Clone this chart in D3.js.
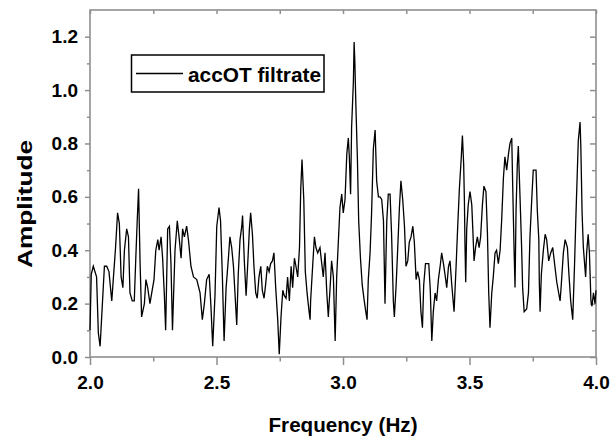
<!DOCTYPE html>
<html>
<head>
<meta charset="utf-8">
<script src="https://cdn.jsdelivr.net/npm/d3@7"></script>
<style>
  html, body { margin: 0; padding: 0; background: #fff; }
  text { font-family: "Liberation Sans", Arial, sans-serif; font-weight: bold; fill: #000; }
</style>
</head>
<body>
<svg id="chart" width="611" height="445"></svg>
<script>
// data
const freq = [
  2.000, 2.005, 2.013, 2.026, 2.033, 2.040, 2.049, 2.057, 2.066, 2.075,
  2.086, 2.092, 2.101, 2.109, 2.116, 2.123, 2.130, 2.136, 2.145, 2.152,
  2.158, 2.167, 2.175, 2.181, 2.187, 2.192, 2.198, 2.204, 2.215, 2.221,
  2.228, 2.237, 2.244, 2.253, 2.260, 2.268, 2.273, 2.281, 2.287, 2.294,
  2.299, 2.307, 2.314, 2.320, 2.326, 2.336, 2.345, 2.352, 2.360, 2.366,
  2.373, 2.382, 2.389, 2.399, 2.409, 2.422, 2.435, 2.444, 2.452, 2.461,
  2.471, 2.478, 2.485, 2.494,
  2.501, 2.510, 2.516, 2.523, 2.530, 2.538, 2.547, 2.553, 2.560, 2.567,
  2.573, 2.580, 2.586, 2.593, 2.600, 2.603, 2.610, 2.617, 2.623, 2.630,
  2.635, 2.642, 2.648, 2.655, 2.661, 2.668, 2.675, 2.681, 2.688, 2.694,
  2.701, 2.708, 2.714, 2.721, 2.727, 2.734, 2.742, 2.748, 2.755, 2.762,
  2.768, 2.775, 2.781, 2.788, 2.795, 2.801, 2.808, 2.814, 2.821, 2.828,
  2.833, 2.838, 2.845, 2.851, 2.858, 2.866, 2.870, 2.872, 2.880, 2.887,
  2.893, 2.900, 2.909, 2.916, 2.922, 2.929, 2.936, 2.942, 2.949, 2.955,
  2.962, 2.969,
  2.975, 2.982, 2.988, 2.995, 3.001, 3.008, 3.015, 3.021, 3.025, 3.030,
  3.034, 3.041, 3.044, 3.047, 3.051, 3.057, 3.062, 3.069, 3.076, 3.084,
  3.090, 3.095, 3.100, 3.107, 3.113, 3.120, 3.127, 3.133, 3.140, 3.146,
  3.153, 3.160, 3.166, 3.173, 3.179, 3.186, 3.192, 3.199, 3.203, 3.210,
  3.216, 3.223, 3.229, 3.236, 3.243, 3.249, 3.256, 3.262, 3.269, 3.276,
  3.282, 3.289, 3.295, 3.302, 3.308, 3.314, 3.319, 3.326, 3.332, 3.339,
  3.345, 3.351, 3.357, 3.364, 3.370, 3.377, 3.384, 3.390, 3.397, 3.403,
  3.410, 3.417, 3.423, 3.430, 3.439, 3.447, 3.453, 3.460, 3.467, 3.472,
  3.477, 3.480, 3.482, 3.485, 3.489, 3.495, 3.502, 3.509, 3.513, 3.518,
  3.524, 3.531, 3.538, 3.544, 3.551, 3.557, 3.565, 3.571, 3.576, 3.581,
  3.588, 3.594, 3.601, 3.607, 3.614, 3.621, 3.627, 3.634, 3.640, 3.647,
  3.654, 3.660, 3.667, 3.671, 3.676, 3.680, 3.684, 3.689, 3.693, 3.700,
  3.706, 3.710, 3.716, 3.726, 3.733, 3.739, 3.746, 3.752, 3.763, 3.768,
  3.774, 3.776, 3.779, 3.784, 3.792, 3.799, 3.805, 3.813, 3.821, 3.829,
  3.835, 3.845, 3.858, 3.862, 3.871, 3.878, 3.887, 3.893, 3.900, 3.908,
  3.915, 3.921, 3.926, 3.930, 3.937, 3.940, 3.945, 3.950, 3.955, 3.959,
  3.963, 3.969, 3.974, 3.980, 3.984, 3.990, 3.996, 4.000
];
const amplitude = [
  0.10, 0.31, 0.34, 0.30, 0.09, 0.04, 0.20, 0.34, 0.34, 0.32,
  0.21, 0.29, 0.41, 0.54, 0.50, 0.30, 0.26, 0.40, 0.48, 0.45,
  0.24, 0.21, 0.21, 0.37, 0.52, 0.63, 0.35, 0.15, 0.20, 0.29,
  0.26, 0.20, 0.24, 0.29, 0.40, 0.44, 0.40, 0.45, 0.37, 0.23,
  0.10, 0.48, 0.49, 0.35, 0.10, 0.40, 0.51, 0.45, 0.37, 0.48,
  0.45, 0.49, 0.44, 0.34, 0.30, 0.29, 0.24, 0.14, 0.20, 0.29,
  0.31, 0.19, 0.04, 0.23,
  0.49, 0.56, 0.51, 0.31, 0.06, 0.26, 0.37, 0.45, 0.41, 0.34,
  0.24, 0.12, 0.31, 0.44, 0.49, 0.53, 0.36, 0.23, 0.34, 0.48,
  0.54, 0.46, 0.34, 0.24, 0.22, 0.30, 0.34, 0.25, 0.22, 0.27,
  0.34, 0.32, 0.35, 0.36, 0.39, 0.26, 0.14, 0.01, 0.15, 0.25,
  0.23, 0.22, 0.30, 0.21, 0.34, 0.26, 0.37, 0.34, 0.30, 0.41,
  0.63, 0.74, 0.59, 0.32, 0.24, 0.17, 0.14, 0.21, 0.34, 0.45,
  0.41, 0.39, 0.41, 0.35, 0.30, 0.39, 0.24, 0.15, 0.26, 0.36,
  0.30, 0.06,
  0.30, 0.44, 0.56, 0.61, 0.54, 0.59, 0.76, 0.82, 0.75, 0.61,
  0.86, 1.03, 1.18, 1.10, 0.94, 0.74, 0.51, 0.37, 0.27, 0.21,
  0.17, 0.14, 0.29, 0.39, 0.54, 0.78, 0.85, 0.66, 0.60, 0.60,
  0.59, 0.51, 0.20, 0.51, 0.61, 0.61, 0.46, 0.21, 0.15, 0.27,
  0.40, 0.56, 0.66, 0.59, 0.49, 0.34, 0.36, 0.43, 0.45, 0.49,
  0.43, 0.29, 0.32, 0.29, 0.17, 0.11, 0.27, 0.35, 0.35, 0.35,
  0.25, 0.06, 0.17, 0.24, 0.21, 0.29, 0.34, 0.39, 0.35, 0.31,
  0.26, 0.34, 0.36, 0.27, 0.17, 0.34, 0.48, 0.63, 0.74, 0.83,
  0.72, 0.58, 0.43, 0.28, 0.48, 0.57, 0.62, 0.57, 0.48, 0.36,
  0.41, 0.45, 0.41, 0.45, 0.57, 0.64, 0.62, 0.46, 0.24, 0.11,
  0.24, 0.30, 0.39, 0.40, 0.35, 0.40, 0.51, 0.67, 0.75, 0.70,
  0.76, 0.80, 0.82, 0.63, 0.41, 0.26, 0.55, 0.72, 0.79, 0.59,
  0.41, 0.26, 0.17, 0.18, 0.24, 0.45, 0.59, 0.70, 0.70, 0.55,
  0.44, 0.28, 0.17, 0.31, 0.40, 0.46, 0.44, 0.36, 0.39, 0.41,
  0.36, 0.28, 0.21, 0.26, 0.39, 0.44, 0.41, 0.31, 0.21, 0.14,
  0.34, 0.54, 0.69, 0.81, 0.88, 0.79, 0.54, 0.41, 0.35, 0.30,
  0.39, 0.46, 0.39, 0.21, 0.19, 0.24, 0.20, 0.25
];
const xMajor = [2.0, 2.5, 3.0, 3.5, 4.0];
const xMinor = [2.25, 2.75, 3.25, 3.75];
const yMajor = [0.0, 0.2, 0.4, 0.6, 0.8, 1.0, 1.2];
const yMinor = [0.1, 0.3, 0.5, 0.7, 0.9, 1.1];
const seriesName = "accOT filtrate";

const plotLeft = 90, plotTop = 10, plotRight = 596, plotBottom = 357;
const axisGray = "#8f8f8f";

const svg = d3.select("#chart");

const x = d3.scaleLinear().domain([2, 4]).range([plotLeft, plotRight]);
const y = d3.scaleLinear().domain([0, 1.3]).range([plotBottom, plotTop]);

const fmt = d3.format(".1f");

function styleAxis(g) {
  g.select(".domain").remove();
  g.selectAll(".tick line").attr("stroke", axisGray).attr("stroke-width", 1.5);
  g.selectAll(".tick text")
    .attr("fill", "#000")
    .style("font-size", "19px")
    .style("font-family", '"Liberation Sans", Arial, sans-serif')
    .style("font-weight", "bold");
}

// bottom axis (outward ticks)
svg.append("g")
  .attr("transform", `translate(0,${plotBottom})`)
  .call(d3.axisBottom(x).tickValues(xMajor).tickFormat(fmt).tickSize(8).tickPadding(11))
  .call(styleAxis);
svg.append("g")
  .attr("transform", `translate(0,${plotBottom})`)
  .call(d3.axisBottom(x).tickValues(xMinor).tickFormat("").tickSize(4.5))
  .call(styleAxis);

// left axis (outward ticks)
svg.append("g")
  .attr("transform", `translate(${plotLeft},0)`)
  .call(d3.axisLeft(y).tickValues(yMajor).tickFormat(fmt).tickSize(5).tickPadding(7))
  .call(styleAxis);
svg.append("g")
  .attr("transform", `translate(${plotLeft},0)`)
  .call(d3.axisLeft(y).tickValues(yMinor).tickFormat("").tickSize(3))
  .call(styleAxis);

// top and right mirror ticks (inward)
svg.append("g")
  .attr("transform", `translate(0,${plotTop})`)
  .call(d3.axisTop(x).tickValues(xMajor.concat(xMinor)).tickFormat("").tickSize(-4))
  .call(styleAxis);
svg.append("g")
  .attr("transform", `translate(${plotRight},0)`)
  .call(d3.axisRight(y).tickValues(yMajor).tickFormat("").tickSize(-6))
  .call(styleAxis);
svg.append("g")
  .attr("transform", `translate(${plotRight},0)`)
  .call(d3.axisRight(y).tickValues(yMinor).tickFormat("").tickSize(-4))
  .call(styleAxis);

// frame
svg.append("rect")
  .attr("x", plotLeft).attr("y", plotTop)
  .attr("width", plotRight - plotLeft).attr("height", plotBottom - plotTop)
  .attr("fill", "none")
  .attr("stroke", axisGray)
  .attr("stroke-width", 1.6);

// series
const line = d3.line()
  .x((d, i) => x(freq[i]))
  .y((d) => y(d));

svg.append("path")
  .datum(amplitude)
  .attr("d", line)
  .attr("fill", "none")
  .attr("stroke", "#000")
  .attr("stroke-width", 1.3)
  .attr("stroke-linejoin", "miter");

// legend
const legend = svg.append("g");
legend.append("rect")
  .attr("x", 131.5).attr("y", 55)
  .attr("width", 192.5).attr("height", 37)
  .attr("fill", "#fff")
  .attr("stroke", "#000")
  .attr("stroke-width", 1.5);
legend.append("line")
  .attr("x1", 136).attr("x2", 183)
  .attr("y1", 73.5).attr("y2", 73.5)
  .attr("stroke", "#000")
  .attr("stroke-width", 1.3);
legend.append("text")
  .attr("x", 188).attr("y", 81.5)
  .attr("textLength", 133)
  .attr("lengthAdjust", "spacingAndGlyphs")
  .style("font-size", "21px")
  .text(seriesName);

// axis titles
svg.append("text")
  .attr("x", (plotLeft + plotRight) / 2).attr("y", 432)
  .attr("text-anchor", "middle")
  .attr("textLength", 149)
  .attr("lengthAdjust", "spacingAndGlyphs")
  .style("font-size", "21px")
  .text("Frequency (Hz)");

svg.append("text")
  .attr("transform", "translate(32,204) rotate(-90)")
  .attr("text-anchor", "middle")
  .attr("textLength", 128)
  .attr("lengthAdjust", "spacingAndGlyphs")
  .style("font-size", "21px")
  .text("Amplitude");
</script>
</body>
</html>
